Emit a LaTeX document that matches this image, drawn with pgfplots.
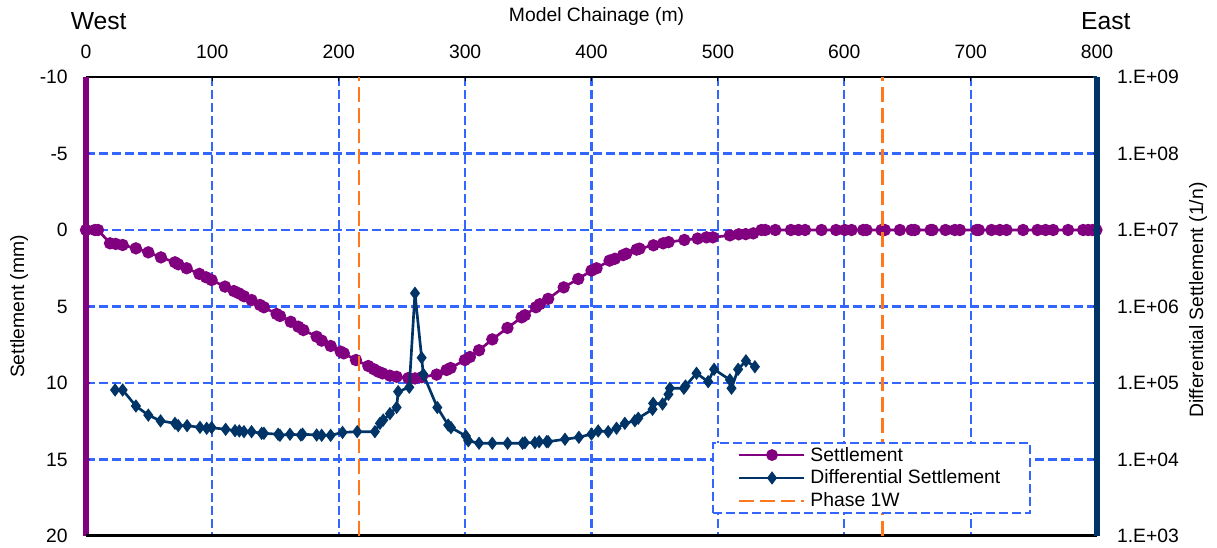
\documentclass[border=0pt]{standalone}
\usepackage{fontspec}
\setmainfont{Liberation Sans}
\usepackage{pgfplots}
\pgfplotsset{compat=1.18}

\definecolor{purp}{RGB}{128,0,128}
\definecolor{navy}{RGB}{0,51,102}
\definecolor{gridblue}{RGB}{51,102,255}
\definecolor{orng}{RGB}{255,120,30}

\newcommand{\tickfont}{\fontsize{14.5}{16}\selectfont}

\begin{document}
\begin{tikzpicture}
% settlement, left axis (reversed), chainage on top
\begin{axis}[
  scale only axis, width=758.25pt, height=344.25pt,
  xmin=0, xmax=800, ymin=-10, ymax=20, y dir=reverse,
  axis x line*=top, axis y line*=left,
  axis line style={-},
  x axis line style={-, line width=0.9pt, black},
  y axis line style={-, line width=4.5pt, purp},
  xtick={0,100,...,800},
  ytick={-10,-5,0,5,10,15,20},
  yticklabels={-10,-5,0,5,10,15,20},
  /pgf/number format/assume math mode=true,
  grid=major,
  grid style={gridblue, line width=1.6pt, dash pattern=on 6.75pt off 3pt},
  tick align=inside, major tick length=3pt,
  x tick style={black, line width=0.8pt},
  y tick style={purp, line width=1pt},
  tick label style={font=\tickfont, inner sep=0pt},
  xticklabel shift=13.5pt, yticklabel shift=13.5pt,
]
\addplot[purp, solid, line width=2pt, mark=*, mark size=3.6pt]
coordinates {
(0,0) (7,0) (9.5,0) (19,0.87) (23.5,0.91) (29,0.98) (39.5,1.2) (49.3,1.46)
(59.3,1.79) (70.4,2.11) (73,2.24) (79.6,2.5) (89.7,2.87) (95,3.09) (99.4,3.27)
(110,3.7) (117,3.99) (121,4.14) (125,4.33) (131,4.58) (137.7,4.9) (140.8,5.05)
(150.8,5.49) (153.5,5.62) (162,6.0) (168,6.32) (172,6.54) (182.5,6.97)
(186.5,7.23) (193.6,7.58) (201.5,7.95) (204,8.06) (213.6,8.5) (223.4,8.89)
(227.8,9.1) (231.3,9.26) (234.7,9.37) (240.5,9.52) (245.8,9.59) (255,9.68)
(260.3,9.7) (265.6,9.62) (277.4,9.45) (285.3,9.15) (288.5,9.02) (299.8,8.5)
(303.8,8.3) (311,7.86) (321.5,7.15) (333.5,6.4) (344.7,5.71) (347.3,5.57)
(356,5.05) (359,4.85) (365.7,4.5) (378,3.75) (389.5,3.2) (400,2.65) (404,2.5)
(414.3,2.0) (418.5,1.88) (425,1.64) (427.5,1.55) (435.7,1.28) (438,1.22)
(449,1.0) (456.7,0.87) (461,0.79) (473.5,0.65) (484,0.56) (491,0.48) (496,0.48)
(509.5,0.35) (516.5,0.28) (522,0.27) (528,0.22) (534.5,0) (537.5,0) (545.5,0)
(557.8,0) (563.8,0) (569,0) (582,0) (593.5,0) (600.5,0) (605.8,0) (615,0)
(617.6,0) (629.5,0) (632.1,0) (644,0) (653.2,0) (655.8,0) (668.3,0) (669.8,0)
(680.1,0) (687.5,0) (691.5,0) (704.7,0) (706.5,0) (716.5,0) (723.1,0) (728.4,0)
(741.5,0) (752.9,0) (759.3,0) (765.3,0) (777.1,0) (789,0) (793,0) (796.4,0)
(799.5,0)
};
\end{axis}

% differential settlement, right log axis
\begin{axis}[
  scale only axis, width=758.25pt, height=344.25pt,
  xmin=0, xmax=800, ymin=1e3, ymax=1e9, ymode=log,
  axis x line*=bottom, axis y line*=right,
  axis line style={-},
  x axis line style={-, line width=2.25pt, black},
  y axis line style={-, line width=4.5pt, navy},
  xtick=\empty,
  ytick={1e3,1e4,1e5,1e6,1e7,1e8,1e9},
  yticklabels={1.E+03,1.E+04,1.E+05,1.E+06,1.E+07,1.E+08,1.E+09},
  yminorticks=false,
  tick align=inside, major tick length=3pt,
  y tick style={navy, line width=1pt},
  tick label style={font=\tickfont, inner sep=0pt},
  yticklabel shift=14.8pt,
  clip=false,
  legend style={at={(rel axis cs:0.619,0.205)}, anchor=north west,
    draw=gridblue, line width=1.5pt, dash pattern=on 6.75pt off 3pt,
    fill=white, font=\tickfont, inner xsep=19pt, inner ysep=0.5pt,
    nodes={inner ysep=2.6pt, inner xsep=3.5pt}},
  legend cell align=left,
  legend image code/.code={\draw[mark repeat=2, mark phase=2, #1]
    plot coordinates {(0pt,0pt) (24.4pt,0pt) (48.75pt,0pt)};},
]
\coordinate (bl) at (rel axis cs:0,0);
\coordinate (tr) at (rel axis cs:1,1);
\addlegendimage{purp, solid, line width=2pt, mark=*, mark size=3.4pt, mark options={solid}}
\addlegendentry{Settlement}

\addplot[navy, solid, line width=2pt, mark=diamond*, mark size=3.4pt, mark options={solid}]
coordinates {
(23,8.1e4) (29,8.1e4) (39.5,5.0e4) (49.3,3.8e4) (59,3.2e4) (70.4,2.97e4)
(73,2.77e4) (80,2.77e4) (90.2,2.63e4) (95.5,2.56e4) (99.4,2.61e4) (110.5,2.48e4)
(117.9,2.38e4) (121.3,2.36e4) (125,2.31e4) (131,2.31e4) (139,2.2e4) (140.8,2.2e4)
(152,2.14e4) (153.5,2.07e4) (161.4,2.14e4) (170,2.09e4) (171.4,2.14e4)
(182.5,2.09e4) (186.5,2.07e4) (193.6,2.07e4) (203,2.26e4) (214.6,2.31e4)
(228.6,2.31e4) (232.6,2.97e4) (235.2,3.28e4) (240.5,3.98e4) (245.8,4.79e4)
(247,7.7e4) (255.8,8.8e4) (260.3,1.49e6) (265.6,2.14e5) (266.9,1.30e5)
(278,4.79e4) (286.6,2.82e4) (288.8,2.61e4) (300.6,2.03e4) (302.5,1.76e4)
(311,1.63e4) (321.5,1.63e4) (333.6,1.63e4) (345.5,1.63e4) (347.3,1.66e4)
(355.2,1.66e4) (358.6,1.71e4) (364.5,1.71e4) (365.7,1.71e4) (379,1.84e4)
(390,1.95e4) (400,2.15e4) (405.3,2.36e4) (413.2,2.31e4) (419.8,2.56e4)
(426.4,2.97e4) (434.3,3.21e4) (437,3.46e4) (448.3,4.53e4) (448.8,5.42e4)
(456.2,5.31e4) (460.9,7.11e4) (462,8.53e4) (473.1,8.53e4) (474.4,9.14e4)
(483.1,1.34e5) (492.3,1.04e5) (497,1.51e5) (509.5,1.10e5) (510.8,8.53e4)
(516,1.51e5) (522.2,1.95e5) (529.3,1.63e5)
};
\addlegendentry{Differential Settlement}

\addplot[orng, line width=2pt, dash pattern=on 11pt off 4.5pt]
coordinates {(216,1e3) (216,1e9)};
\addlegendentry{Phase 1W}
\addplot[orng, line width=2pt, dash pattern=on 11pt off 4.5pt, forget plot]
coordinates {(630,1e3) (630,1e9)};

\node[anchor=base, font=\fontsize{18.5}{20}\selectfont] at ([shift={(9.5pt,35.8pt)}]rel axis cs:0,1) {West};
\node[anchor=base, font=\fontsize{18.5}{20}\selectfont] at ([shift={(6.6pt,35.8pt)}]rel axis cs:1,1) {East};
\node[anchor=base, font=\tickfont] at ([yshift=41.25pt]rel axis cs:0.505,1) {Model Chainage (m)};
\node[rotate=90, font=\tickfont] at ([xshift=-50.25pt]rel axis cs:0,0.5) {Settlement (mm)};
\node[rotate=90, font=\tickfont] at ([shift={(75.75pt,4.9pt)}]rel axis cs:1,0.5) {Differential Settlement (1/n)};
\end{axis}
\pgfresetboundingbox
\path[use as bounding box] ([shift={(-64.5pt,-9pt)}]bl) rectangle ([shift={(90pt,57.75pt)}]tr);
\end{tikzpicture}
\end{document}
